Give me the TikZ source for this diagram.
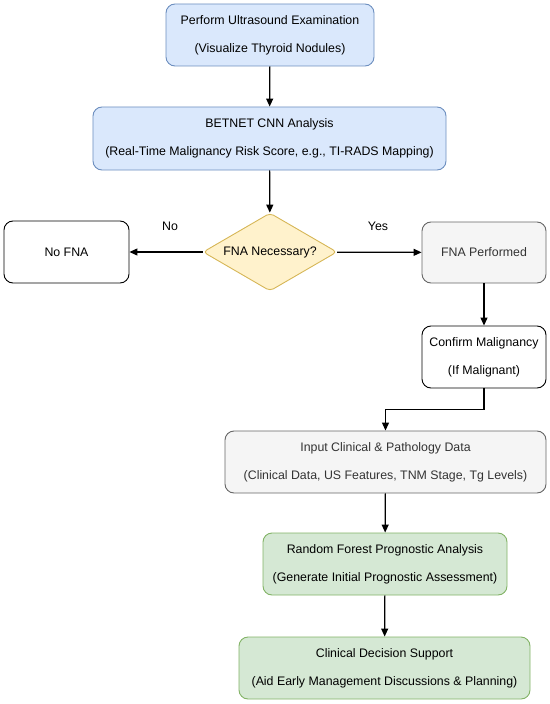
\documentclass[tikz,border=0pt]{standalone}
\usepackage{fontspec}
\setmainfont{Liberation Sans}
\usepackage{xcolor}
\usetikzlibrary{shapes, arrows.meta, positioning, calc}

\definecolor{blueFill}{HTML}{DAE8FC}
\definecolor{blueLine}{HTML}{6C8EBF}
\definecolor{yellowFill}{HTML}{FFF2CC}
\definecolor{yellowLine}{HTML}{D6B656}
\definecolor{grayFill}{HTML}{F5F5F5}
\definecolor{grayLine}{HTML}{666666}
\definecolor{grayText}{HTML}{333333}
\definecolor{greenFill}{HTML}{D5E8D4}
\definecolor{greenLine}{HTML}{82B366}

\begin{document}
\begin{tikzpicture}[x=1bp, y=-1bp,
  txt/.style={font=\fontsize{12.4}{28}\selectfont},
  box/.style={txt, draw, rounded corners=9bp, line width=0.9bp, align=center, inner sep=0pt},
  bluebox/.style={box, fill=blueFill, draw=blueLine},
  graybox/.style={box, fill=grayFill, draw=grayLine, text=grayText},
  greenbox/.style={box, fill=greenFill, draw=greenLine},
  plainbox/.style={box, fill=white, draw=black},
  decision/.style={txt, diamond, draw=yellowLine, fill=yellowFill, line width=0.9bp,
    rounded corners=4bp, inner sep=0pt, aspect=1.72},
  flow/.style={-{Triangle[length=8bp,width=7bp]}, line width=1.2bp}
]
  \useasboundingbox (0,0) rectangle (550,704);

  % Screening steps
  \node[bluebox, minimum width=208bp, minimum height=62bp] (ultra) at (270,35)
    {Perform Ultrasound Examination\\(Visualize Thyroid Nodules)};
  \node[bluebox, minimum width=353bp, minimum height=63bp] (betnet) at (269.5,138.5)
    {BETNET CNN Analysis\\(Real-Time Malignancy Risk Score, e.g., TI-RADS Mapping)};

  % Decision and its two branches
  \node[decision, minimum width=134bp, minimum height=78bp] (fna) at (270,252) {FNA Necessary?};
  \node[plainbox, minimum width=125bp, minimum height=62bp] (nofna) at (66.5,252) {No FNA};
  \node[graybox, minimum width=124bp, minimum height=61bp] (fnaperf) at (484,252.5) {FNA Performed};
  \node[plainbox, minimum width=124bp, minimum height=62bp] (confirm) at (484,357)
    {Confirm Malignancy\\(If Malignant)};

  % Prognosis steps
  \node[graybox, minimum width=321bp, minimum height=62bp] (input) at (385.5,462)
    {Input Clinical \& Pathology Data\\(Clinical Data, US Features, TNM Stage, Tg Levels)};
  \node[greenbox, minimum width=244bp, minimum height=62bp] (rf) at (385,564)
    {Random Forest Prognostic Analysis\\(Generate Initial Prognostic Assessment)};
  \node[greenbox, minimum width=291bp, minimum height=62bp] (cds) at (384.5,668)
    {Clinical Decision Support\\(Aid Early Management Discussions \& Planning)};

  % Branch labels
  \node[txt] (nolbl) at (170,226) {No};
  \node[txt] (yeslbl) at (378,226) {Yes};

  % Arrows
  \draw[flow] (ultra) -- (betnet);
  \draw[flow] (betnet) -- (fna);
  \draw[flow] (fna) -- (nofna);
  \draw[flow] (fna) -- (fnaperf);
  \draw[flow] (fnaperf) -- (confirm);
  \draw[flow] (confirm.south) -- ++(0,21) -| (input.north);
  \draw[flow] (input) -- (rf);
  \draw[flow] (rf) -- (cds);
\end{tikzpicture}
\end{document}
